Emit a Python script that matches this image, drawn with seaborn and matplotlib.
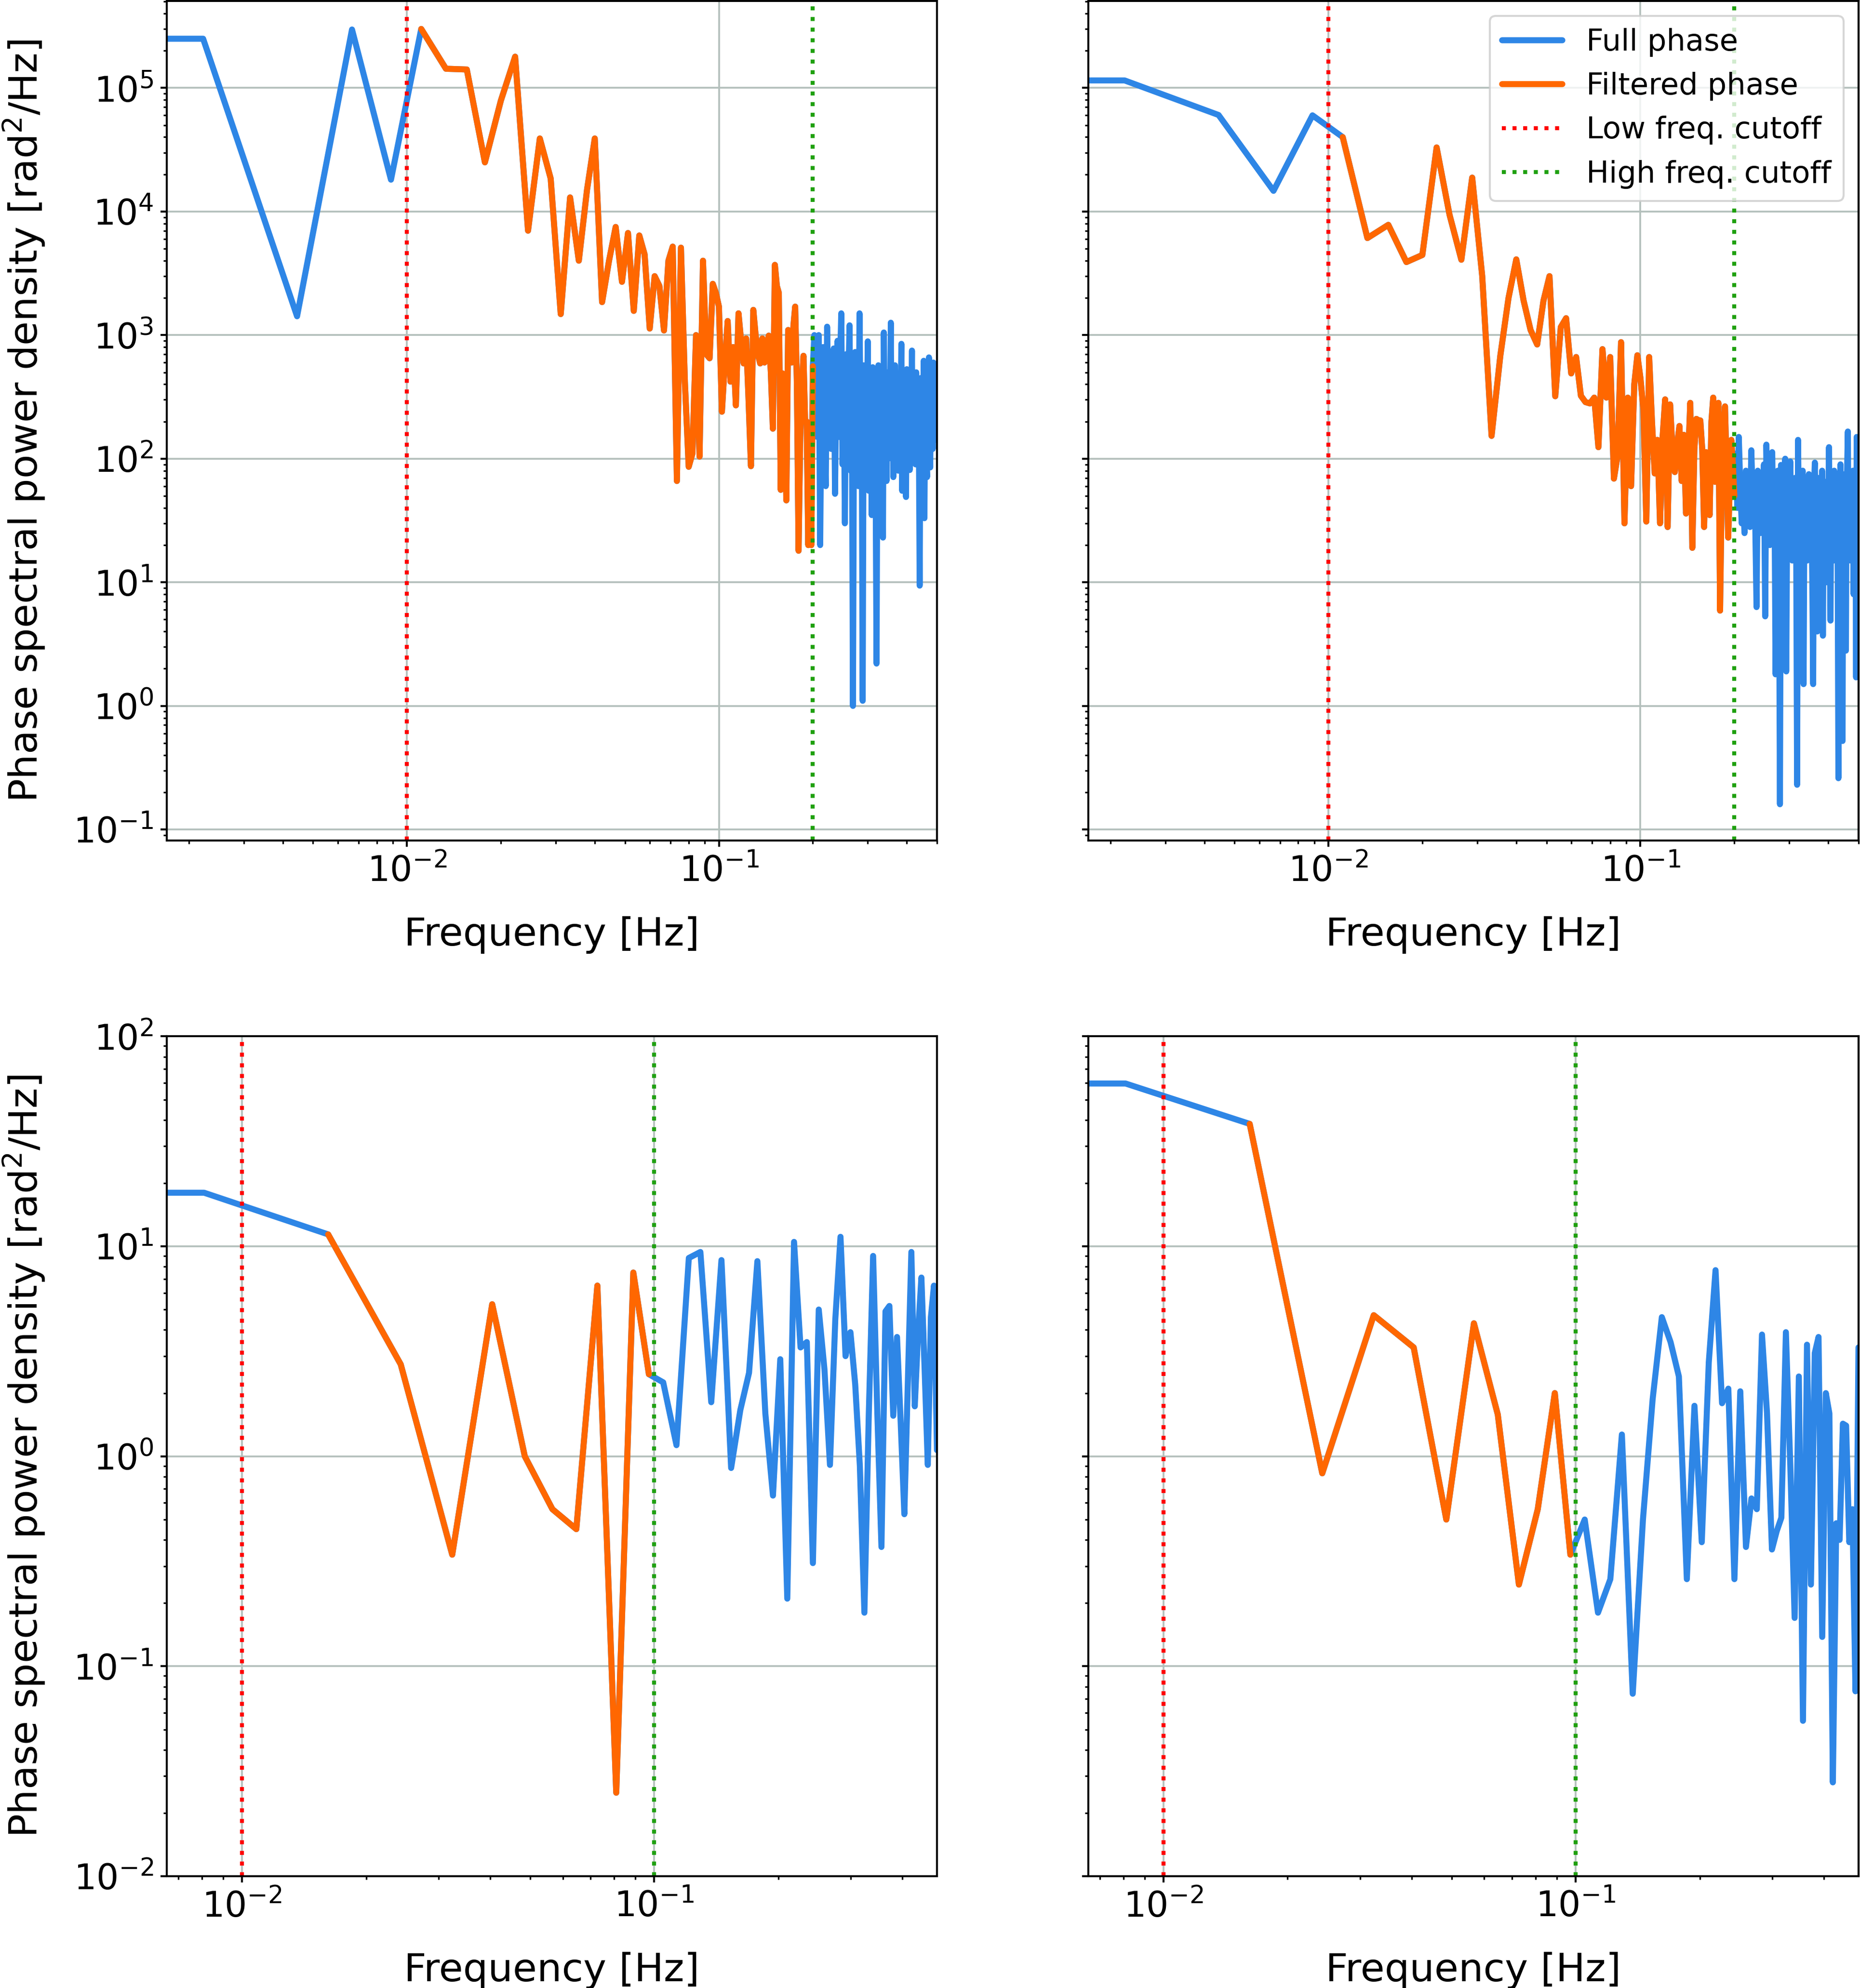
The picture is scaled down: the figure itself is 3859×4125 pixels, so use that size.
import numpy as np
import matplotlib
matplotlib.use("Agg")
import matplotlib.pyplot as plt
import seaborn as sns

# frequency grids of the two recordings (FFT bins, DC bin included)
top_df = 1 / 450
top_bins = 226
bottom_df = 0.00809
bottom_bins = 61

low_cutoff = 0.01
high_cutoff_top = 0.2
high_cutoff_bottom = 0.1

# phase PSD, one value per bin [rad^2/Hz]
psd_top_left = [
    2.5e5, 2.5e5, 1.42e3, 2.97e5, 1.81e4, 3.0e5, 1.43e5, 1.41e5, 2.5e4, 7.9e4,
    1.79e5, 7.0e3, 3.9e4, 1.85e4, 1.48e3, 1.3e4, 4.0e3, 1.5e4, 3.9e4, 1.85e3,
    4.0e3, 7.5e3, 2.7e3, 6.7e3, 1.57e3, 6.4e3, 4.5e3, 1.13e3, 3.0e3, 2.5e3,
    1.09e3, 4.0e3, 5.2e3, 66, 5.1e3, 420, 86, 110, 1.0e3, 104,
    4.0e3, 700, 650, 2.6e3, 2.2e3, 1.7e3, 240, 600, 1.3e3, 420,
    800, 270, 1.5e3, 900, 590, 940, 300, 87, 1.6e3, 1.0e3,
    700, 590, 940, 600, 800, 990, 500, 175, 3.7e3, 2.5e3,
    2.2e3, 56, 490, 250, 46, 1.1e3, 900, 600, 1.2e3, 1.7e3,
    400, 18, 150, 400, 680, 200, 200, 20, 150, 20,
    560, 1000, 300, 150, 1000, 20, 400, 800, 200, 60,
    1170, 250, 500, 120, 300, 780, 52, 400, 900, 150,
    600, 1500, 90, 500, 30, 700, 200, 450, 1200, 80,
    350, 1.0, 400, 730, 120, 300, 60, 1500, 200, 450,
    1.1, 570, 100, 300, 180, 890, 55, 250, 400, 35,
    550, 150, 300, 80, 2.2, 200, 570, 120, 350, 90,
    250, 23, 1050, 150, 400, 66, 300, 500, 130, 200,
    1260, 100, 350, 71, 250, 570, 150, 300, 120, 80,
    400, 200, 250, 850, 55, 300, 150, 450, 100, 49,
    530, 200, 300, 120, 81, 400, 250, 750, 100, 300,
    180, 350, 90, 500, 200, 150, 400, 100, 9.4, 300,
    450, 120, 250, 180, 620, 33, 200, 350, 100, 71,
    400, 250, 660, 150, 85, 300, 200, 450, 120, 600,
    141, 300, 180, 500, 200, 350,
]

psd_top_right = [
    1.15e5, 1.15e5, 6.04e4, 1.47e4, 6.0e4, 4.0e4, 6.1e3, 7.8e3, 3.9e3, 4.45e3,
    3.3e4, 9.4e3, 4.07e3, 1.88e4, 3.0e3, 153, 680, 2.0e3, 4.1e3, 1.9e3,
    1.1e3, 840, 1.9e3, 3.0e3, 320, 1.16e3, 1.37e3, 490, 665, 323,
    287, 280, 312, 124, 770, 312, 665, 69, 105, 877,
    30, 312, 60, 400, 687, 450, 250, 31, 665, 200,
    76, 142, 30, 150, 302, 28, 275, 120, 78, 130,
    184, 66, 156, 36, 100, 283, 19, 120, 210, 205,
    204, 120, 28, 113, 60, 35, 200, 312, 65, 150,
    283, 5.9, 60, 180, 265, 80, 23, 60, 142, 90,
    50, 110, 40, 150, 60, 30, 45, 25, 80, 35,
    60, 28, 117, 50, 70, 30, 6.3, 80, 40, 25,
    60, 35, 90, 5.3, 130, 40, 70, 20, 50, 113,
    30, 60, 1.8, 45, 80, 35, 0.16, 89, 40, 20,
    70, 100, 1.9, 50, 25, 60, 95, 30, 15, 55,
    40, 70, 25, 0.23, 142, 30, 60, 20, 45, 80,
    1.5, 50, 30, 65, 15, 40, 75, 25, 55, 35,
    10, 1.5, 60, 93, 30, 50, 4, 70, 40, 20,
    60, 35, 80, 3.7, 45, 25, 65, 30, 10, 55,
    40, 124, 20, 4.9, 70, 35, 50, 15, 80, 30,
    60, 25, 45, 12, 0.26, 70, 40, 90, 20, 50,
    0.52, 60, 30, 75, 25, 2.8, 40, 90, 166, 20,
    60, 35, 15, 70, 45, 25, 80, 8, 50, 30,
    60, 1.7, 150, 40, 20, 50,
]

psd_bottom_left = [
    18.0, 18.0, 11.4, 2.74, 0.34, 5.3, 1.0, 0.56, 0.45, 6.5,
    0.025, 7.5, 2.46, 2.25, 1.13, 8.8, 9.4, 1.81, 8.6, 0.88,
    1.66, 2.5, 8.5, 1.6, 0.65, 2.9, 0.21, 10.5, 3.3, 3.5,
    0.31, 5.0, 2.6, 0.91, 4.5, 11.1, 3.0, 3.9, 2.2, 0.9,
    0.18, 1.6, 9.0, 1.6, 0.37, 4.9, 5.2, 1.56, 3.7, 1.43,
    0.53, 2.3, 9.4, 1.73, 3.9, 7.1, 2.6, 0.91, 4.6, 6.5,
    1.07,
]

psd_bottom_right = [
    59.6, 59.6, 38.3, 0.83, 4.7, 3.3, 0.50, 4.3, 1.58, 0.245,
    0.56, 2.0, 0.34, 0.50, 0.18, 0.26, 1.27, 0.074, 0.50, 1.87,
    4.6, 3.5, 2.4, 0.26, 1.74, 0.39, 2.8, 7.7, 1.79, 2.1,
    0.26, 2.04, 0.37, 0.63, 0.56, 3.8, 1.6, 0.36, 0.44, 0.51,
    3.9, 0.9, 0.17, 2.4, 0.055, 3.4, 0.245, 3.1, 3.7, 0.138,
    2.0, 1.6, 0.028, 0.48, 0.4, 1.43, 1.4, 0.39, 0.56, 0.076,
    3.3,
]

top_xlim = (0.0017, 0.5)
top_ylim = (0.0811, 5.07e5)
bottom_xlim = (0.00657, 0.4855)
bottom_ylim = (1e-2, 1e2)

FULL_COLOR = "#2e86e6"
FILTERED_COLOR = "#ff6700"
LOW_COLOR = "#ff0000"
HIGH_COLOR = "#1fa00f"
GRID_COLOR = "#b4c0bc"


def draw_panel(ax, freqs, psd, f_low, f_high):
    """ Full and band-passed phase PSD with the two cutoff lines. """
    freqs = np.asarray(freqs)
    psd = np.asarray(psd, dtype=float)
    band = (freqs >= f_low) & (freqs <= f_high)

    sns.lineplot(x=freqs, y=psd, ax=ax, color=FULL_COLOR, linewidth=3,
                 estimator=None, sort=False, legend=False, label="Full phase")
    sns.lineplot(x=freqs[band], y=psd[band], ax=ax, color=FILTERED_COLOR,
                 linewidth=3, estimator=None, sort=False, legend=False,
                 label="Filtered phase")
    ax.axvline(f_low, color=LOW_COLOR, linestyle=":", linewidth=2,
               label="Low freq. cutoff")
    ax.axvline(f_high, color=HIGH_COLOR, linestyle=":", linewidth=2,
               label="High freq. cutoff")

    ax.set_xscale("log")
    ax.set_yscale("log")
    ax.grid(True, which="major", color=GRID_COLOR, linewidth=0.9)
    ax.set_xlabel("Frequency [Hz]", fontsize=19.5, labelpad=13.5)
    ax.tick_params(which="major", length=3.2, width=1.0, labelsize=17.5,
                   color="black")
    ax.tick_params(which="minor", length=1.7, width=0.8, color="black")
    for spine in ax.spines.values():
        spine.set_linewidth(1.0)
        spine.set_edgecolor("black")


def main():
    sns.set_style("ticks")
    plt.rcParams["font.family"] = ["DejaVu Sans"]
    plt.rcParams["text.color"] = "black"
    plt.rcParams["axes.labelcolor"] = "black"
    plt.rcParams["xtick.color"] = "black"
    plt.rcParams["ytick.color"] = "black"

    fig, axes = plt.subplots(2, 2, figsize=(3859 / 300, 4125 / 300), dpi=300,
                             sharey="row")
    fig.subplots_adjust(left=0.0897, right=0.9992, top=0.9996, bottom=0.0562,
                        wspace=0.1965, hspace=0.2329)

    top_freqs = np.arange(top_bins) * top_df
    bottom_freqs = np.arange(bottom_bins) * bottom_df

    panels = [
        (axes[0, 0], top_freqs, psd_top_left, high_cutoff_top),
        (axes[0, 1], top_freqs, psd_top_right, high_cutoff_top),
        (axes[1, 0], bottom_freqs, psd_bottom_left, high_cutoff_bottom),
        (axes[1, 1], bottom_freqs, psd_bottom_right, high_cutoff_bottom),
    ]
    for ax, freqs, psd, f_high in panels:
        draw_panel(ax, freqs, psd, low_cutoff, f_high)

    for ax in axes[0]:
        ax.set_xlim(*top_xlim)
        ax.set_ylim(*top_ylim)
    for ax in axes[1]:
        ax.set_xlim(*bottom_xlim)
        ax.set_ylim(*bottom_ylim)

    for ax in axes[:, 0]:
        ax.set_ylabel("Phase spectral power density [rad$^2$/Hz]",
                      fontsize=19.5, labelpad=13)

    axes[0, 1].legend(loc="upper right", fontsize=15)

    fig.savefig("out.png", dpi=300)


if __name__ == "__main__":
    main()
